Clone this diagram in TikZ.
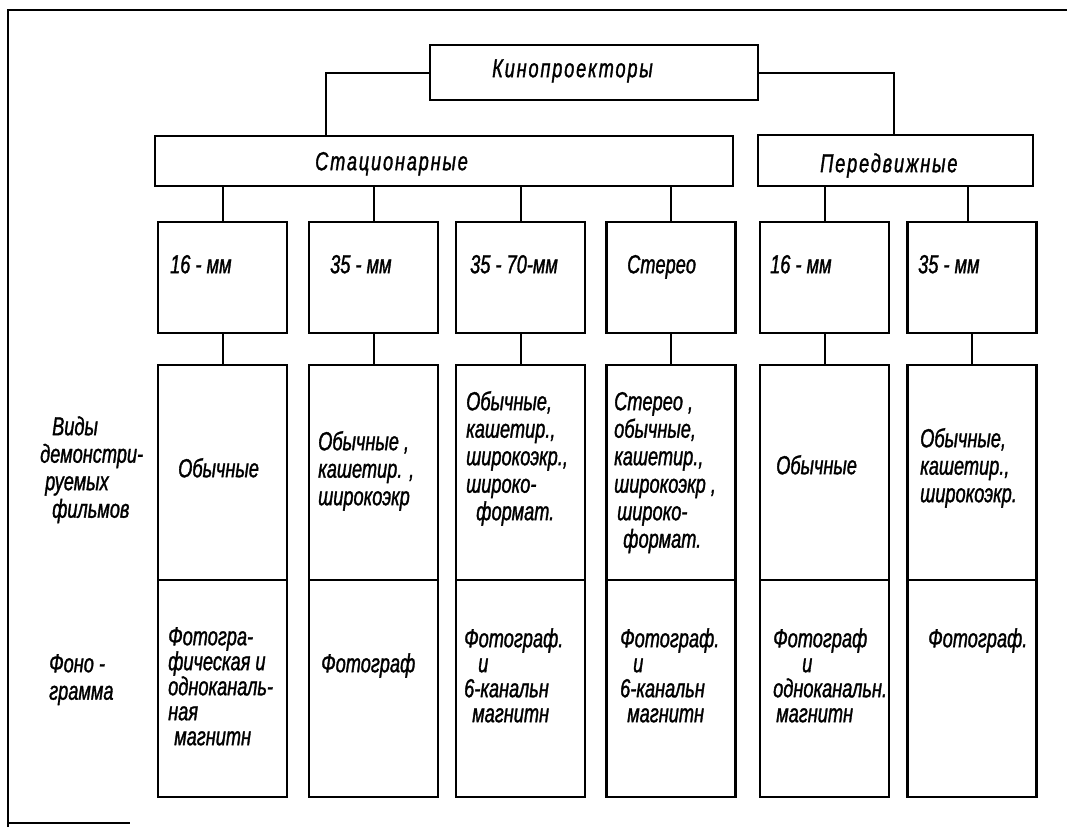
\documentclass[tikz,border=0pt]{standalone}
\usepackage{fontspec}
\setmainfont{Liberation Sans}[FakeStretch=0.7,FakeBold=1.2]
\newcommand\fs{\rule{0pt}{22pt}}
\newcommand\hd{\addfontfeature{LetterSpace=7}}
\begin{document}
\begin{tikzpicture}[x=1pt,y=-1pt,
  box/.style={draw, line width=2.6pt, inner sep=0pt},
  colbox/.style={box, minimum width=129pt},
  conn/.style={line width=2pt},
  txt/.style={anchor=north west, inner sep=0pt, align=left, font=\fontsize{26}{27.5}\selectfont\itshape},
  txtb/.style={txt, font=\fontsize{26}{25}\selectfont\itshape},
  head/.style={txt, font=\fontsize{26}{27.5}\selectfont\itshape\hd}]
\useasboundingbox (0,0) rectangle (1067,827);
% frame
\draw[line width=2pt] (8,827) -- (8,10) -- (1067,10);
\draw[line width=1.6pt] (8,823) -- (130,823);

% top level
\node[box, minimum width=328pt, minimum height=55pt] (kino) at (594,72.5) {};
\node[box, minimum width=578pt, minimum height=50pt] (stat) at (444,161) {};
\node[box, minimum width=275pt, minimum height=51pt] (pered) at (895.5,160.5) {};
\node[head] (tkino) at (492,{77-22}) {\fs Кинопроекторы};
\node[head] (tstat) at (315,{170-22}) {\fs Стационарные};
\node[head] (tpered) at (820,{172-22}) {\fs Передвижные};

\draw[conn] (kino.west) -| ([xshift=-118pt]stat.north);
\draw[conn] (kino.east) -| ([xshift=-1.5pt]pered.north);

% columns
\foreach \i/\cx in {1/222.5,2/373.5,3/520.5,4/671,5/824.5,6/972}{
  \node[colbox, minimum height=111pt] (a\i) at (\cx,277.5) {};
  \node[colbox, minimum height=215pt] (b\i) at (\cx,472.5) {};
  \node[colbox, minimum height=217pt] (c\i) at (\cx,688.5) {};
  \draw[conn] (a\i.south) -- (b\i.north);
}
\foreach \i in {1,2,3,4}{ \draw[conn] (a\i.north) -- (a\i.north |- stat.south); }
\draw[conn] ([xshift=-4pt]a6.north) -- ([xshift=-4pt]a6.north |- pered.south);
\draw[conn] (a5.north) -- (a5.north |- pered.south);

% row 1 texts
\node[txt] (ta1) at (170,{273-22}) {\fs 16 - мм};
\node[txt] (ta2) at (330,{273-22}) {\fs 35 - мм};
\node[txt] (ta3) at (470,{273-22}) {\fs 35 - 70-мм};
\node[txt] (ta4) at (627,{273-22}) {\fs Стерео};
\node[txt] (ta5) at (770,{273-22}) {\fs 16 - мм};
\node[txt] (ta6) at (918,{273-22}) {\fs 35 - мм};

% left labels
\node[txt] (lv) at (40,{435-22}) {\fs\hspace*{12pt}Виды\\демонстри-\\\hspace*{5pt}руемых\\\hspace*{12pt}фильмов};
\node[txt] (lf) at (49,{672-22}) {\fs Фоно -\\грамма};

% row 2 texts
\node[txt] (tb1) at (178,{477-22}) {\fs Обычные};
\node[txt] (tb2) at (318,{450-22}) {\fs Обычные ,\\кашетир. ,\\широкоэкр};
\node[txt] (tb3) at (466,{410-22}) {\fs Обычные,\\кашетир.,\\широкоэкр.,\\широко-\\\hspace*{10pt}формат.};
\node[txt] (tb4) at (614,{410-22}) {\fs Стерео ,\\обычные,\\кашетир.,\\широкоэкр ,\\\hspace*{3pt}широко-\\\hspace*{9pt}формат.};
\node[txt] (tb5) at (776,{474-22}) {\fs Обычные};
\node[txt] (tb6) at (920,{447-22}) {\fs Обычные,\\кашетир.,\\широкоэкр.};

% row 3 texts
\node[txtb] (tc1) at (168,{645-22}) {\fs Фотогра-\\фическая и\\одноканаль-\\ная\\\hspace*{6pt}магнитн};
\node[txtb] (tc2) at (321,{672-22}) {\fs Фотограф};
\node[txtb] (tc3) at (464,{647-22}) {\fs Фотограф.\\\hspace*{14pt}и\\6-канальн\\\hspace*{8pt}магнитн};
\node[txtb] (tc4) at (620,{647-22}) {\fs Фотограф.\\\hspace*{13pt}и\\6-канальн\\\hspace*{7pt}магнитн};
\node[txtb] (tc5) at (773,{647-22}) {\fs Фотограф\\\hspace*{29pt}и\\одноканальн.\\\hspace*{3pt}магнитн};
\node[txtb] (tc6) at (928,{647-22}) {\fs Фотограф.};
\end{tikzpicture}
\end{document}
